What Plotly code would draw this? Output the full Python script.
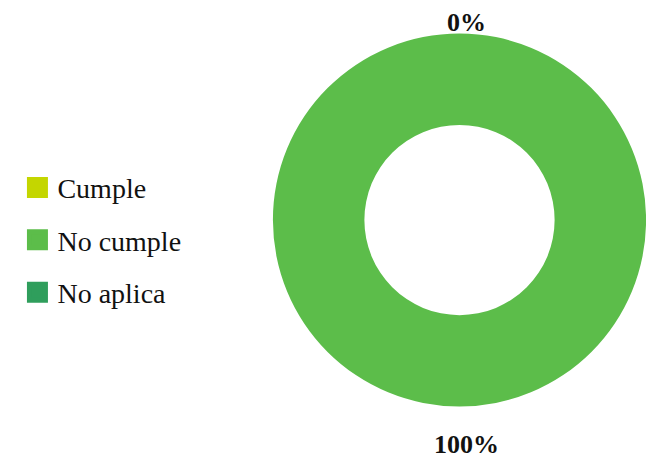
import math
import plotly.graph_objects as go

categories = ["Cumple", "No cumple", "No aplica"]
values = [0, 100, 0]
colors = ["#c4d600", "#5cbd4a", "#2f9e5c"]

W, H = 646, 461
dom_x = [0.4226, 1.0]
dom_y = [0.1171, 0.9284]
SERIF = "Liberation Serif"

fig = go.Figure()
fig.add_trace(go.Pie(
    labels=categories, values=values, hole=0.51, sort=False, direction="clockwise",
    rotation=0, marker=dict(colors=colors, line=dict(width=0)),
    textinfo="none", hoverinfo="label+percent", showlegend=False,
    domain=dict(x=dom_x, y=dom_y),
))

for cat, col in zip(categories, colors):
    fig.add_trace(go.Scatter(
        x=[None], y=[None], mode="markers", name=cat, legendgroup=cat,
        marker=dict(symbol="square", size=16, color=col, line=dict(color=col, width=5)),
    ))

# percentage labels placed outside the ring at each slice midpoint
total = sum(values)
cx_px = (dom_x[0] + dom_x[1]) / 2 * W
cy_px = (1 - (dom_y[0] + dom_y[1]) / 2) * H
R = min((dom_x[1] - dom_x[0]) * W, (dom_y[1] - dom_y[0]) * H) / 2
cum = 0
shown = set()
for v in values:
    mid = (cum + v / 2) / total
    cum += v
    theta = 2 * math.pi * mid
    pct = f"{round(100 * v / total)}%"
    key = (round(math.sin(theta), 3), round(math.cos(theta), 3), pct)
    if key in shown:
        continue
    shown.add(key)
    d = R + (11 if math.cos(theta) > 0 else 38)
    px = cx_px + d * math.sin(theta) + 7
    py = cy_px - d * math.cos(theta)
    fig.add_annotation(
        x=px / W, y=1 - py / H, xref="paper", yref="paper", text=f"<b>{pct}</b>",
        showarrow=False, xanchor="center", yanchor="middle",
        font=dict(family=SERIF, size=26, color="#111111"),
    )

fig.update_layout(
    width=W, height=H, margin=dict(l=0, r=0, t=0, b=0),
    paper_bgcolor="white", plot_bgcolor="white",
    font=dict(family=SERIF, size=28, color="#111111"),
    xaxis=dict(visible=False), yaxis=dict(visible=False),
    legend=dict(x=0.027, y=0.479, xanchor="left", yanchor="middle",
                font=dict(family=SERIF, size=28, color="#111111"),
                tracegroupgap=13, itemclick=False),
)

fig.write_html("out.html")
